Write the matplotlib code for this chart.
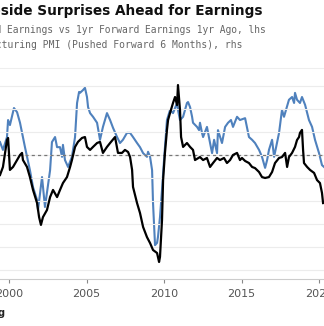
import matplotlib
matplotlib.use("Agg")
import matplotlib.pyplot as plt

# earnings growth vs a year ago (%), lhs
earn_t = [1999.42, 1999.61, 1999.87, 1999.94, 2000.06, 2000.26, 2000.52, 2000.71, 2000.84, 2000.90,
          2001.16, 2001.35, 2001.55, 2001.81, 2001.94, 2002.06, 2002.19, 2002.45, 2002.65, 2002.84,
          2003.10, 2003.29, 2003.48, 2003.74, 2003.94, 2004.06, 2004.26, 2004.45, 2004.71, 2004.90,
          2005.03, 2005.23, 2005.42, 2005.68, 2005.87, 2006.06, 2006.32, 2006.52, 2006.84, 2007.03,
          2007.29, 2007.48, 2007.68, 2007.81, 2007.94, 2008.00, 2008.26, 2008.45, 2008.65, 2008.90,
          2009.10, 2009.29, 2009.55, 2009.68, 2009.74, 2009.87, 2009.94, 2010.06, 2010.19, 2010.26,
          2010.39, 2010.58, 2010.71, 2010.84, 2010.90, 2011.03, 2011.10, 2011.23, 2011.48, 2011.68,
          2011.87, 2012.00, 2012.32, 2012.52, 2012.77, 2012.97, 2013.16, 2013.42, 2013.61, 2013.87,
          2014.06, 2014.26, 2014.45, 2014.71, 2014.90, 2015.03, 2015.23, 2015.48, 2015.68, 2015.87,
          2016.13, 2016.32, 2016.52, 2016.77, 2016.97, 2017.16, 2017.42, 2017.61, 2017.81, 2017.94,
          2018.06, 2018.26, 2018.45, 2018.58, 2018.71, 2018.77, 2018.90, 2018.97, 2019.03, 2019.23,
          2019.42, 2019.68, 2019.87, 2020.06, 2020.19, 2020.26]
earn_v = [-8.7, -5.2, 6.5, 7.4, -6.5, -5.2, -2.2, 0.0, 0.9, -2.2,
          -5.2, -9.6, -15.2, -20.9, -27.0, -30.4, -27.0, -23.9, -18.3, -15.2,
          -18.3, -15.2, -12.2, -9.6, -5.2, -2.2, 3.5, 5.7, 7.4, 7.8,
          3.5, 2.2, 3.5, 5.2, 5.7, 0.9, 3.5, 5.2, 7.8, 0.9,
          0.9, 2.2, 1.3, -0.9, -6.5, -13.9, -20.9, -25.2, -31.3, -35.7,
          -38.3, -41.3, -42.6, -46.5, -44.3, -28.3, -10.9, 0.9, 10.9, 15.2,
          18.3, 22.6, 25.2, 21.7, 30.4, 19.6, 7.8, 3.5, 5.2, 3.5,
          2.2, -2.2, -0.9, -2.2, -1.3, -5.2, -3.5, -1.3, -2.2, -1.3,
          -3.5, -2.2, 0.0, 0.9, -2.2, -1.3, -2.6, -3.5, -5.2, -5.7,
          -7.4, -9.6, -10.0, -9.6, -7.4, -3.5, -1.3, -0.9, 0.9, -5.2,
          -0.9, 0.9, 3.5, 6.5, 7.8, 9.6, 10.9, 2.2, -3.5, -5.2,
          -6.5, -7.8, -10.9, -12.2, -16.5, -20.9]

# ISM manufacturing PMI pushed forward 6 months, rhs
pmi_t = [1999.42, 1999.61, 1999.87, 1999.94, 2000.06, 2000.32, 2000.52, 2000.71, 2001.03, 2001.35,
         2001.55, 2001.81, 2001.87, 2002.13, 2002.32, 2002.65, 2002.77, 2002.97, 2003.10, 2003.29,
         2003.42, 2003.48, 2003.61, 2003.81, 2004.06, 2004.26, 2004.39, 2004.52, 2004.58, 2004.77,
         2004.90, 2005.03, 2005.10, 2005.23, 2005.42, 2005.68, 2005.87, 2006.06, 2006.32, 2006.52,
         2006.71, 2006.97, 2007.16, 2007.35, 2007.61, 2007.81, 2008.00, 2008.26, 2008.45, 2008.65,
         2008.90, 2008.97, 2009.10, 2009.23, 2009.29, 2009.42, 2009.55, 2009.61, 2009.74, 2009.87,
         2010.00, 2010.19, 2010.39, 2010.58, 2010.84, 2010.90, 2011.03, 2011.23, 2011.48, 2011.55,
         2011.68, 2011.81, 2011.87, 2012.13, 2012.26, 2012.32, 2012.45, 2012.52, 2012.77, 2012.97,
         2013.10, 2013.23, 2013.42, 2013.48, 2013.74, 2013.94, 2014.13, 2014.32, 2014.45, 2014.71,
         2014.90, 2015.23, 2015.48, 2015.68, 2015.87, 2016.13, 2016.32, 2016.52, 2016.65, 2016.77,
         2016.97, 2017.10, 2017.23, 2017.42, 2017.61, 2017.74, 2017.87, 2018.06, 2018.26, 2018.39,
         2018.45, 2018.58, 2018.77, 2018.90, 2019.10, 2019.35, 2019.55, 2019.74, 2020.00, 2020.19,
         2020.32]
pmi_v = [52.8, 51.1, 53.9, 57.6, 56.5, 60.2, 59.3, 57.0, 51.7, 46.7,
         43.0, 40.2, 38.0, 45.2, 38.7, 46.7, 52.8, 53.9, 51.7, 51.7,
         49.6, 52.2, 48.9, 47.4, 49.6, 53.9, 61.3, 63.7, 63.5, 64.1,
         64.6, 62.6, 60.4, 59.1, 58.3, 57.0, 53.3, 56.1, 59.1, 57.6,
         55.9, 53.9, 52.6, 53.3, 54.8, 54.8, 53.9, 52.6, 51.7, 50.4,
         49.6, 50.7, 49.6, 46.7, 39.6, 30.4, 30.9, 32.2, 36.5, 42.4,
         48.9, 57.6, 59.8, 59.1, 61.3, 59.8, 57.6, 58.3, 61.3, 61.5,
         60.4, 58.3, 57.0, 56.1, 55.4, 57.0, 54.8, 53.9, 56.1, 52.6,
         50.4, 53.3, 50.4, 55.4, 52.6, 56.1, 57.0, 57.6, 56.1, 58.3,
         57.6, 58.0, 53.9, 53.3, 52.6, 51.1, 49.6, 47.2, 48.9, 51.1,
         53.3, 49.6, 51.7, 54.8, 59.8, 58.3, 59.8, 62.0, 62.6, 61.3,
         63.5, 62.0, 61.3, 62.6, 60.9, 57.6, 56.1, 53.3, 50.4, 47.8,
         47.4]

years = [2000, 2005, 2010, 2015, 2020]
title = "Upside Surprises Ahead for Earnings"
legend1 = "12m Forward Earnings vs 1yr Forward Earnings 1yr Ago, lhs"
legend2 = "ISM Manufacturing PMI (Pushed Forward 6 Months), rhs"

fig = plt.figure(figsize=(3.24, 3.26), dpi=100)
ax = fig.add_axes([0, 0.1442, 1, 0.626])
ax2 = ax.twinx()
ax.set_zorder(ax2.get_zorder() + 1)
ax.patch.set_visible(False)

lo, hi = -53.9, 34.8
ax.set_ylim(lo, hi)
ax2.set_ylim(50 + lo / 2, 50 + hi / 2)   # 10 pts lhs = 5 pts rhs
ax.set_xlim(1999.419, 2020.32)

for g in range(-50, 40, 10):
    ax.axhline(g, color="#ececec", lw=0.8, zorder=0)
ax.axhline(0, color="#777777", lw=0.9, ls=(0, (2.5, 2.5)), zorder=1)

ax2.plot(pmi_t, pmi_v, color="#4f81bd", lw=1.5)
ax.plot(earn_t, earn_v, color="black", lw=1.6)

for a in (ax, ax2):
    for s in ("top", "left", "right"):
        a.spines[s].set_visible(False)
    a.set_yticks([])
ax2.spines["bottom"].set_visible(False)
ax.spines["bottom"].set_color("#cccccc")
ax.set_xticks(years)
ax.set_xticklabels([str(y) for y in years])
ax.tick_params(axis="x", length=3, color="#888888", labelcolor="#555555",
               labelsize=8, pad=4)

# the source image is cropped on the left, so the texts start off-canvas
fig.text(262 / 324, 1 - 15 / 326, title, ha="right", va="baseline",
         fontsize=9.8, fontweight="bold", color="#111111")
fig.text(-62 / 324, 1 - 33 / 326, legend1, ha="left", va="baseline",
         fontsize=6.9, family="DejaVu Sans Mono", color="#666666")
fig.text(-63 / 324, 1 - 48 / 326, legend2, ha="left", va="baseline",
         fontsize=7.0, family="DejaVu Sans Mono", color="#666666")
fig.add_artist(plt.Line2D([0, 1], [1 - 68 / 326] * 2, color="#eeeeee", lw=0.8))
fig.text(5 / 324, 1 - 316 / 326, "Source: Bloomberg", ha="right", va="baseline",
         fontsize=7, fontweight="bold", color="#222222")

fig.savefig("out.png", dpi=100)
